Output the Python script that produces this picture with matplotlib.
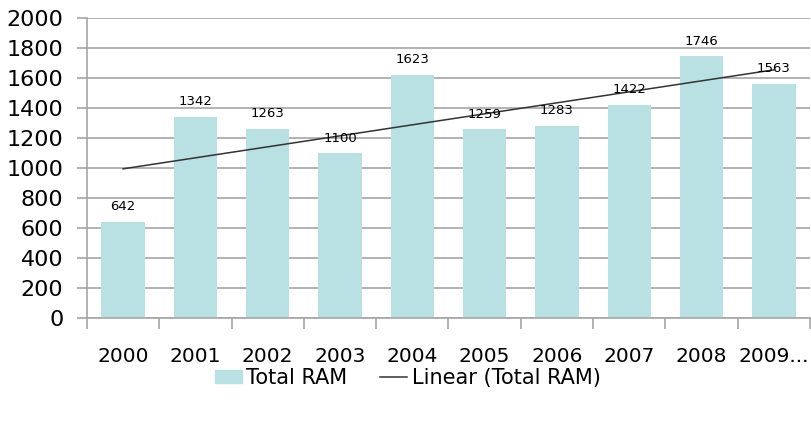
import matplotlib
matplotlib.use("Agg")
import matplotlib.pyplot as plt
import numpy as np
from matplotlib.patches import Patch
from matplotlib.lines import Line2D

categories = ["2000", "2001", "2002", "2003", "2004", "2005", "2006", "2007", "2008", "2009..."]
total_ram = [642, 1342, 1263, 1100, 1623, 1259, 1283, 1422, 1746, 1563]
y_ticks = [0, 200, 400, 600, 800, 1000, 1200, 1400, 1600, 1800, 2000]

bar_color = "#b9e0e2"
grid_color = "#a6a6a6"

fig = plt.figure(figsize=(8.12, 4.21), dpi=100)
ax = fig.add_axes([0.107, 0.2447, 0.8905, 0.7126])

x = np.arange(len(categories))
ax.bar(x, total_ram, width=0.6, color=bar_color, zorder=2)

for xi, v in zip(x, total_ram):
    ax.annotate(str(v), (xi, v), xytext=(0, 6), textcoords="offset points",
                ha="center", va="bottom", fontsize=9.5, color="black", zorder=4)

coef = np.polyfit(x, total_ram, 1)
ax.plot(x, np.polyval(coef, x), color="#333333", lw=1.1, zorder=3)

ax.set_xlim(-0.5, len(categories) - 0.5)
ax.set_ylim(0, 2000)
ax.set_yticks(y_ticks)
ax.set_yticklabels([str(t) for t in y_ticks], fontsize=16)
ax.yaxis.grid(True, color=grid_color, lw=1.2, zorder=0)
ax.set_axisbelow(True)

ax.set_xticks(x)
ax.set_xticklabels(categories, fontsize=14.5)
ax.set_xticks(np.arange(-0.5, len(categories), 1), minor=True)
ax.tick_params(axis="x", which="major", length=0, pad=21)
ax.tick_params(axis="x", which="minor", length=8, color=grid_color, width=1.2)
ax.tick_params(axis="y", length=7, color=grid_color, width=1.2, pad=10)

for s in ["top", "right"]:
    ax.spines[s].set_visible(False)
for s in ["left", "bottom"]:
    ax.spines[s].set_color(grid_color)
    ax.spines[s].set_linewidth(1.2)

handles = [Patch(color=bar_color), Line2D([0], [0], color="#333333", lw=1.1)]
fig.legend(handles, ["Total RAM", "Linear (Total RAM)"], loc="center",
           bbox_to_anchor=(0.502, 0.102), ncol=2, frameon=False, fontsize=15,
           handlelength=1.3, handleheight=0.6, handletextpad=0.2, columnspacing=1.6)

fig.savefig("out.png", dpi=100)
